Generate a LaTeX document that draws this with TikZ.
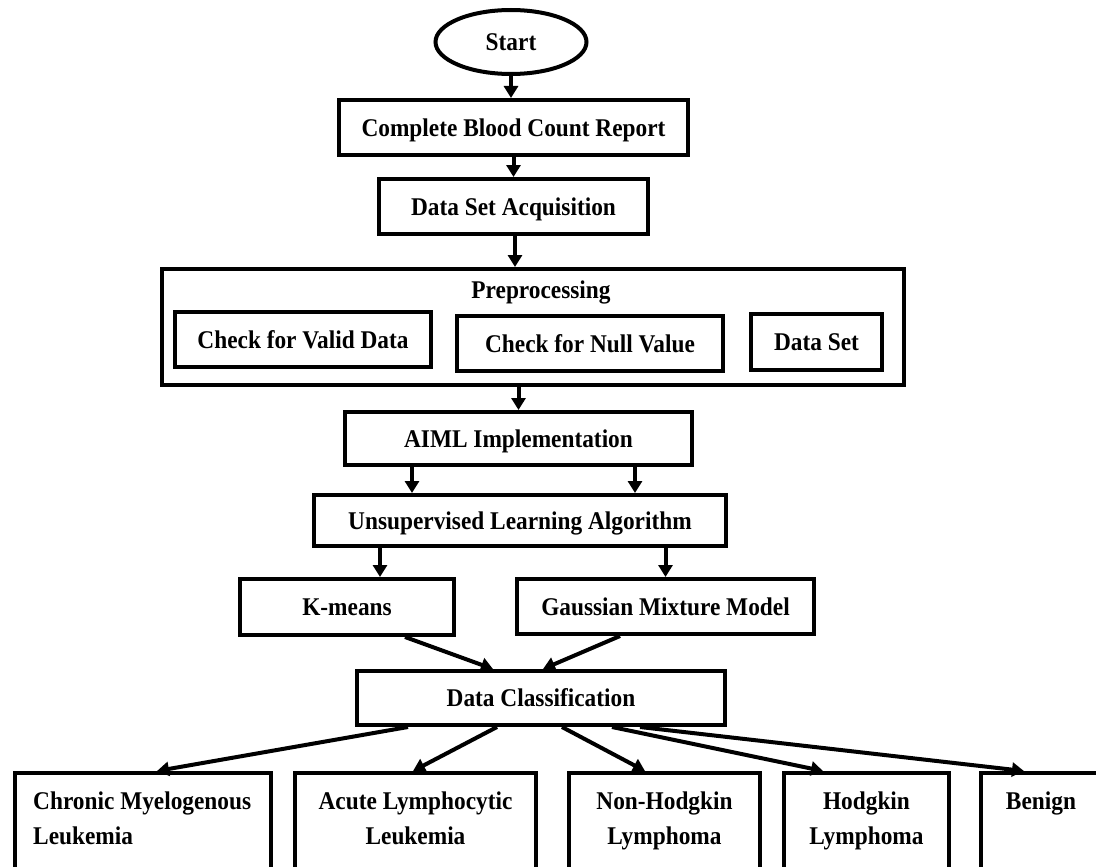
\documentclass[tikz,border=0pt]{standalone}
\usepackage{fontspec}
\setmainfont[FakeStretch=0.915]{Liberation Serif}
\usetikzlibrary{arrows.meta,shapes.geometric}
\begin{document}
\begin{tikzpicture}[x=1pt,y=-1pt,
  box/.style={draw, line width=4pt, inner sep=0pt, text depth=0pt, font=\bfseries\fontsize{25.5pt}{35pt}\selectfont, align=center},
  frame/.style={draw, line width=4pt, inner sep=0pt},
  txt/.style={inner sep=0pt, font=\bfseries\fontsize{25.5pt}{35pt}\selectfont},
  arr/.style={line width=4pt, -{Triangle[length=12pt,width=14pt]}}]
\useasboundingbox (0,0) rectangle (1096,867);
\clip (0,0) rectangle (1096,867);
\fill[white] (0,0) rectangle (1096,867);
% top chain
\node[box, ellipse, minimum width=151pt, minimum height=64pt] (start) at (511,42) {Start};
\node[box, minimum width=349pt, minimum height=55pt] (cbc) at (513.5,127.5) {Complete Blood Count Report};
\node[box, minimum width=269pt, minimum height=55pt] (dsa) at (513.5,206.5) {Data Set Acquisition};
% preprocessing
\node[frame, minimum width=742pt, minimum height=116pt] (prep) at (533,327) {};
\node[txt, anchor=base] (preplbl) at (541,298) {Preprocessing};
\node[box, minimum width=256pt, minimum height=55pt] (cvd) at (303,339.5) {Check for Valid Data};
\node[box, minimum width=266pt, minimum height=55pt] (cnv) at (590,343.5) {Check for Null Value};
\node[box, minimum width=131pt, minimum height=56pt] (ds) at (816.5,342) {Data Set};
% learning
\node[box, minimum width=347pt, minimum height=53pt] (aiml) at (518.5,438.5) {AIML Implementation};
\node[box, minimum width=412pt, minimum height=51pt] (ula) at (520,520.5) {Unsupervised Learning Algorithm};
\node[box, minimum width=214pt, minimum height=56pt] (km) at (347,607) {K-means};
\node[box, minimum width=297pt, minimum height=55pt] (gmm) at (665.5,606.5) {Gaussian Mixture Model};
\node[box, minimum width=368pt, minimum height=54pt] (dc) at (541,698) {Data Classification};
% outcome boxes
\node[frame, anchor=north, minimum width=256pt, minimum height=104pt] (cml) at (143,771) {};
\node[frame, anchor=north, minimum width=241pt, minimum height=104pt] (all) at (415.5,771) {};
\node[frame, anchor=north, minimum width=191pt, minimum height=104pt] (nhl) at (664.5,771) {};
\node[frame, anchor=north, minimum width=165pt, minimum height=104pt] (hl) at (866.5,771) {};
\node[frame, anchor=north, minimum width=120pt, minimum height=104pt] (ben) at (1041,771) {};
\node[txt, anchor=north west, align=left] (cmlt) at (33,791.6) {Chronic Myelogenous\\Leukemia};
\node[txt, anchor=north, align=center] (allt) at (415.5,791.6) {Acute Lymphocytic\\Leukemia};
\node[txt, anchor=north, align=center] (nhlt) at (664.5,791.6) {Non-Hodgkin\\Lymphoma};
\node[txt, anchor=north, align=center] (hlt) at (866.5,791.6) {Hodgkin\\Lymphoma};
\node[txt, anchor=north] (bent) at (1041,792) {Benign};
% connectors
\draw[arr] (start.south) -- (start.south |- cbc.north);
\draw[arr] (cbc.south) -- (dsa.north);
\draw[arr] ([xshift=1.5pt]dsa.south) -- ([xshift=1.5pt]dsa.south |- prep.north);
\draw[arr] (aiml.north |- prep.south) -- (aiml.north);
\draw[arr] ([xshift=-106.5pt]aiml.south) -- ([xshift=-106.5pt]aiml.south |- ula.north);
\draw[arr] ([xshift=116.5pt]aiml.south) -- ([xshift=116.5pt]aiml.south |- ula.north);
\draw[arr] ([xshift=-140pt]ula.south) -- ([xshift=-140pt]ula.south |- km.north);
\draw[arr] (gmm.north |- ula.south) -- (gmm.north);
\draw[arr] ([xshift=58pt]km.south) -- ([xshift=-48pt]dc.north);
\draw[arr] ([xshift=-45.5pt]gmm.south) -- ([xshift=2pt]dc.north);
\draw[arr] ([xshift=-133pt]dc.south) -- ([xshift=14pt]cml.north);
\draw[arr] ([xshift=-44pt]dc.south) -- ([xshift=-2.5pt]all.north);
\draw[arr] ([xshift=21pt]dc.south) -- ([xshift=-19.5pt]nhl.north);
\draw[arr] ([xshift=71pt]dc.south) -- ([xshift=-43.5pt]hl.north);
\draw[arr] ([xshift=99pt]dc.south) -- ([xshift=-17pt]ben.north);
\end{tikzpicture}
\end{document}
